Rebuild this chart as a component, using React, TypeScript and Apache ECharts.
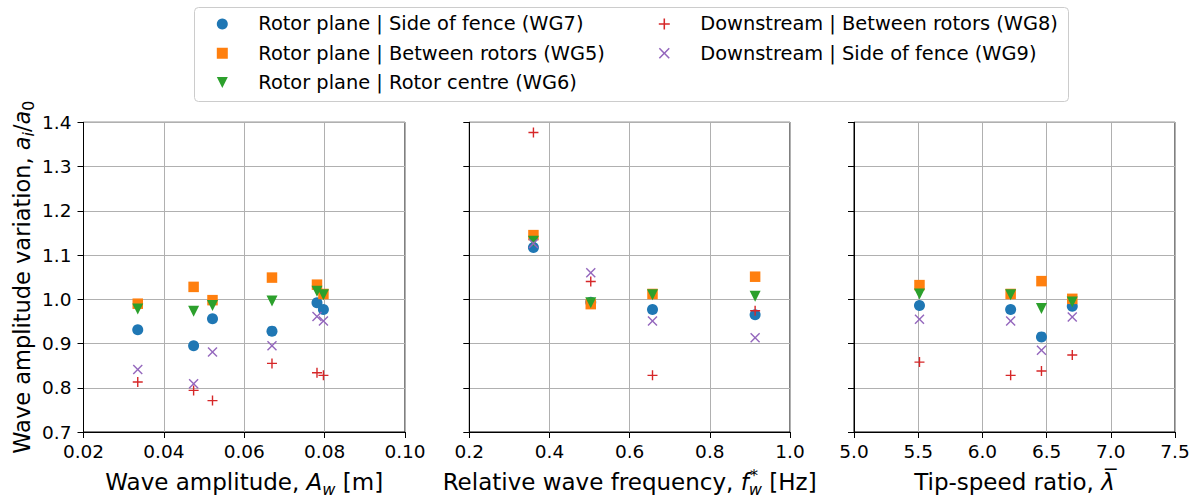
import React, { useEffect, useRef } from 'react';
import * as echarts from 'echarts';

const FONT = 'DejaVu Sans';

const seriesNames = [
  'Rotor plane | Side of fence (WG7)',
  'Rotor plane | Between rotors (WG5)',
  'Rotor plane | Rotor centre (WG6)',
  'Downstream | Between rotors (WG8)',
  'Downstream | Side of fence (WG9)',
];
const seriesColors = ['#1f77b4', '#ff7f0e', '#2ca02c', '#d62728', '#9467bd'];

// Panel 1: wave amplitude A_w [m]
const ampX = [0.0335, 0.0474, 0.0521, 0.0669, 0.0781, 0.0797];
const ampWG7 = [0.931, 0.895, 0.956, 0.928, 0.992, 0.977];
const ampWG5 = [0.990, 1.028, 0.998, 1.049, 1.033, 1.012];
const ampWG6 = [0.978, 0.973, 0.986, 0.996, 1.018, 1.010];
const ampWG8 = [0.813, 0.794, 0.771, 0.855, 0.834, 0.828];
const ampWG9 = [0.841, 0.809, 0.881, 0.895, 0.961, 0.951];

// Panel 2: relative wave frequency f_w* [Hz]
const freqX = [0.360, 0.503, 0.657, 0.913];
const freqWG7 = [1.117, 0.993, 0.977, 0.965];
const freqWG5 = [1.145, 0.989, 1.012, 1.051];
const freqWG6 = [1.131, 0.992, 1.010, 1.007];
const freqWG8 = [1.377, 1.040, 0.828, 0.974];
const freqWG9 = [1.126, 1.060, 0.951, 0.913];

// Panel 3: tip-speed ratio
const tsrX = [5.51, 6.22, 6.46, 6.70];
const tsrWG7 = [0.986, 0.977, 0.915, 0.984];
const tsrWG5 = [1.032, 1.012, 1.041, 1.001];
const tsrWG6 = [1.012, 1.010, 0.979, 0.994];
const tsrWG8 = [0.858, 0.828, 0.838, 0.874];
const tsrWG9 = [0.955, 0.951, 0.885, 0.960];

const yTicks = { min: 0.7, max: 1.4, interval: 0.1 };

const SQUARE = 'path://M0,0 L10,0 L10,10 L0,10 Z';
const TRI_DOWN = 'path://M0,0 L10,0 L5,10 Z';
const PLUS = 'path://M4.3,0 L5.7,0 L5.7,4.3 L10,4.3 L10,5.7 L5.7,5.7 L5.7,10 L4.3,10 L4.3,5.7 L0,5.7 L0,4.3 L4.3,4.3 Z';
const CROSS = 'path://M0,1 L1,0 L5,4 L9,0 L10,1 L6,5 L10,9 L9,10 L5,6 L1,10 L0,9 L4,5 Z';
const symbols = ['circle', SQUARE, TRI_DOWN, PLUS, CROSS];
const symbolSizes = [11, 10.5, 11, 10, 10];

export default function App() {
  const ref = useRef<HTMLDivElement>(null);
  useEffect(() => {
    const chart = echarts.init(ref.current!, null, { renderer: 'svg' });

    const panels = [
      { x: ampX, ys: [ampWG7, ampWG5, ampWG6, ampWG8, ampWG9] },
      { x: freqX, ys: [freqWG7, freqWG5, freqWG6, freqWG8, freqWG9] },
      { x: tsrX, ys: [tsrWG7, tsrWG5, tsrWG6, tsrWG8, tsrWG9] },
    ];

    const grids = [
      { left: 83.5, top: 122.3, width: 321.5, height: 310.4 },
      { left: 469.3, top: 122.3, width: 320.7, height: 310.4 },
      { left: 854, top: 122.3, width: 321, height: 310.4 },
    ].map((g) => ({ ...g, show: true, borderColor: '#000', borderWidth: 1, backgroundColor: 'transparent' }));

    const mkRich = (fs: number) => ({
      i: { fontStyle: 'italic', fontSize: fs, fontFamily: FONT, color: '#000', lineHeight: 30 },
      sub: { fontStyle: 'italic', fontSize: fs * 0.7, fontFamily: FONT, color: '#000', verticalAlign: 'bottom', lineHeight: 17 },
      subn: { fontSize: fs * 0.7, fontFamily: FONT, color: '#000', verticalAlign: 'bottom', lineHeight: 17 },
      sup: { fontSize: fs * 0.7, fontFamily: FONT, color: '#000', verticalAlign: 'top', lineHeight: 17, width: 0.1 },
      lam: { fontStyle: 'italic', fontSize: fs, fontFamily: FONT, color: '#000', lineHeight: 30 },
    });
    const xNameStyle = { fontSize: 23, fontFamily: FONT, color: '#000', lineHeight: 30, rich: mkRich(23) };
    const yNameStyle = { fontSize: 22.5, fontFamily: FONT, color: '#000', lineHeight: 30, rich: mkRich(22.5) };

    const xCommon = (i: number, min: number, max: number, interval: number, dec: number, name: string) => ({
      type: 'value',
      gridIndex: i,
      min,
      max,
      interval,
      axisLine: { show: true, onZero: false, lineStyle: { color: '#000', width: 1 } },
      axisTick: { show: true, length: 6, lineStyle: { color: '#000', width: 1 } },
      axisLabel: { fontSize: 18.5, fontFamily: FONT, color: '#000', margin: 10, formatter: (v: number) => v.toFixed(dec) },
      splitLine: { show: true, lineStyle: { color: '#b0b0b0', width: 1 } },
      name,
      nameLocation: 'middle',
      nameGap: 35,
      nameTextStyle: xNameStyle,
    });

    const xAxis = [
      xCommon(0, 0.02, 0.1, 0.02, 2, 'Wave amplitude, {i|A}{sub|w} [m]'),
      xCommon(1, 0.2, 1.0, 0.2, 1, 'Relative wave frequency, {i|f}{sup|\u00a0\u00a0*}{sub|w} [Hz]'),
      xCommon(2, 5.0, 7.5, 0.5, 1, 'Tip-speed ratio, {lam|λ\u0305}'),
    ];

    const yAxis = [0, 1, 2].map((i) => ({
      type: 'value',
      gridIndex: i,
      ...yTicks,
      axisLine: { show: true, onZero: false, lineStyle: { color: '#000', width: 1 } },
      axisTick: { show: true, length: 6, lineStyle: { color: '#000', width: 1 } },
      axisLabel: { show: i === 0, fontSize: 18.5, fontFamily: FONT, color: '#000', margin: 12, formatter: (v: number) => v.toFixed(1) },
      splitLine: { show: true, lineStyle: { color: '#b0b0b0', width: 1 } },
      ...(i === 0
        ? {
            name: 'Wave amplitude variation, {i|a}{sub|i}/{i|a}{subn|0}',
            nameLocation: 'middle',
            nameGap: 47,
            nameRotate: 90,
            nameTextStyle: yNameStyle,
          }
        : {}),
    }));

    const series: any[] = [];
    panels.forEach((p, pi) => {
      p.ys.forEach((ys, si) => {
        series.push({
          type: 'scatter',
          name: seriesNames[si],
          xAxisIndex: pi,
          yAxisIndex: pi,
          data: p.x.map((x, k) => [x, ys[k]]),
          symbol: symbols[si],
          symbolSize: symbolSizes[si],
          itemStyle: { color: seriesColors[si], opacity: 1 },
          z: 2 + si,
          emphasis: { disabled: true },
        });
      });
    });

    const legendCommon = {
      orient: 'vertical',
      top: 14.3,
      padding: 0,
      itemWidth: 62,
      itemHeight: 11,
      itemGap: 10,
      selectedMode: false,
      textStyle: { fontSize: 19.4, fontFamily: FONT, color: '#000', lineHeight: 19.3 },
    };

    chart.setOption({
      animation: false,
      backgroundColor: '#fff',
      textStyle: { fontFamily: FONT },
      graphic: [
        {
          type: 'rect',
          shape: { x: 194.5, y: 7.5, width: 874, height: 94, r: 4 },
          style: { fill: 'rgba(255,255,255,0.8)', stroke: '#cccccc', lineWidth: 1 },
          z: 0,
          silent: true,
        },
      ],
      legend: [
        { ...legendCommon, left: 216.8, data: seriesNames.slice(0, 3) },
        { ...legendCommon, left: 658.8, data: seriesNames.slice(3) },
      ],
      grid: grids,
      xAxis,
      yAxis,
      series,
    });

    return () => chart.dispose();
  }, []);
  return <div ref={ref} style={{ position: 'fixed', left: 0, top: 0, width: 1203, height: 502 }} />;
}
